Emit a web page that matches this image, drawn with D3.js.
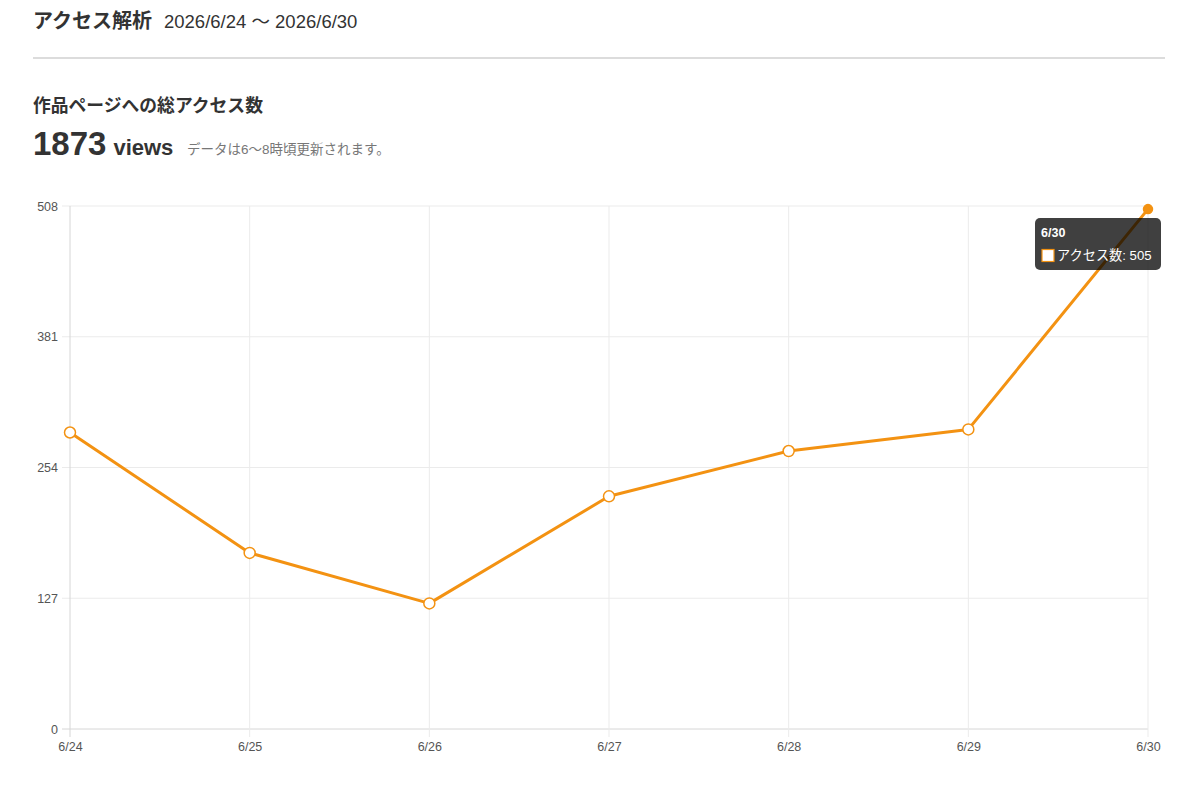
<!DOCTYPE html>
<html><head><meta charset="utf-8">
<script src="https://cdn.jsdelivr.net/npm/d3@7"></script>
<style>
body{margin:0;background:#fff;font-family:"Liberation Sans","Noto Sans CJK JP",sans-serif;}
svg{display:block}
</style></head>
<body>
<svg id="c" width="1200" height="793"></svg>
<script>
const categories = ["6/24","6/25","6/26","6/27","6/28","6/29","6/30"];
const accessCounts = [288,171,122,226,270,291,505];
const yTicks = [0,127,254,381,508];
const seriesName = "アクセス数";
const totalViews = 1873;

const svg = d3.select("#c");
const font = '"Liberation Sans","Noto Sans CJK JP",sans-serif';
const orange = "#f39212";

// Header
svg.append("text").attr("x",33).attr("y",28).attr("font-size",20).attr("font-weight","bold").attr("fill","#333").attr("font-family",font).text("アクセス解析");
svg.append("text").attr("x",164).attr("y",28).attr("font-size",18.5).attr("fill","#333").attr("font-family",font).text("2026/6/24 〜 2026/6/30");
svg.append("line").attr("x1",33).attr("x2",1165).attr("y1",58).attr("y2",58).attr("stroke","#dcdcdc").attr("stroke-width",2);
svg.append("text").attr("x",33).attr("y",112).attr("font-size",17.8).attr("font-weight","bold").attr("fill","#333").attr("font-family",font).text("作品ページへの総アクセス数");
const tv = svg.append("text").attr("x",33).attr("y",155).attr("fill","#333").attr("font-family",font).attr("font-weight","bold");
tv.append("tspan").attr("font-size",33).text(totalViews);
tv.append("tspan").attr("font-size",22).attr("dx",7).text("views");
svg.append("text").attr("x",187).attr("y",154).attr("font-size",13.5).attr("fill","#777").attr("font-family",font).text("データは6〜8時頃更新されます。");

// Chart
const x = d3.scalePoint().domain(categories).range([70,1148]);
const y = d3.scaleLinear().domain([0,508]).range([729,206]);

const g = svg.append("g");
g.selectAll(".hg").data(yTicks).join("line")
  .attr("x1",62).attr("x2",1148).attr("y1",d=>y(d)).attr("y2",d=>y(d))
  .attr("stroke",d=>d===0?"#d6d6d6":"#ebebeb").attr("stroke-width",1);
g.selectAll(".vg").data(categories).join("line")
  .attr("x1",d=>x(d)).attr("x2",d=>x(d)).attr("y1",206).attr("y2",737)
  .attr("stroke",(d,i)=>i===0?"#d6d6d6":"#ebebeb").attr("stroke-width",1);

const yAxis = d3.axisLeft(y).tickValues(yTicks).tickSize(0).tickPadding(12);
const ya = svg.append("g").attr("transform","translate(70,0)").call(yAxis);
ya.select(".domain").remove();
ya.selectAll("text").attr("font-size",12.5).attr("fill","#555").attr("font-family",font);

const xAxis = d3.axisBottom(x).tickSize(0).tickPadding(13);
const xa = svg.append("g").attr("transform","translate(0,729)").call(xAxis);
xa.select(".domain").remove();
xa.selectAll("text").attr("font-size",12.5).attr("fill","#555").attr("font-family",font);

const line = d3.line().x((d,i)=>x(categories[i])).y(d=>y(d));
svg.append("path").datum(accessCounts).attr("d",line).attr("fill","none")
  .attr("stroke",orange).attr("stroke-width",3).attr("stroke-linejoin","round");

svg.selectAll(".pt").data(accessCounts).join("circle")
  .attr("cx",(d,i)=>x(categories[i])).attr("cy",d=>y(d))
  .attr("r",(d,i)=>i===categories.length-1?4.5:5.5)
  .attr("fill",(d,i)=>i===categories.length-1?orange:"#fff")
  .attr("stroke",orange).attr("stroke-width",1.5);

const li = categories.length-1;
const tt = svg.append("g").attr("transform",`translate(1035,218)`);
tt.append("rect").attr("width",126).attr("height",52).attr("rx",5).attr("fill","rgba(0,0,0,0.75)");
tt.append("text").attr("x",6).attr("y",19).attr("font-size",12.5).attr("font-weight","bold").attr("fill","#fff").attr("font-family",font).text(categories[li]);
tt.append("rect").attr("x",7).attr("y",31.5).attr("width",12).attr("height",12).attr("fill","#fff").attr("stroke",orange).attr("stroke-width",1.2);
tt.append("text").attr("x",22).attr("y",42).attr("font-size",13.2).attr("fill","#fff").attr("font-family",font).text(`${seriesName}: ${accessCounts[li]}`);
</script>
</body></html>
